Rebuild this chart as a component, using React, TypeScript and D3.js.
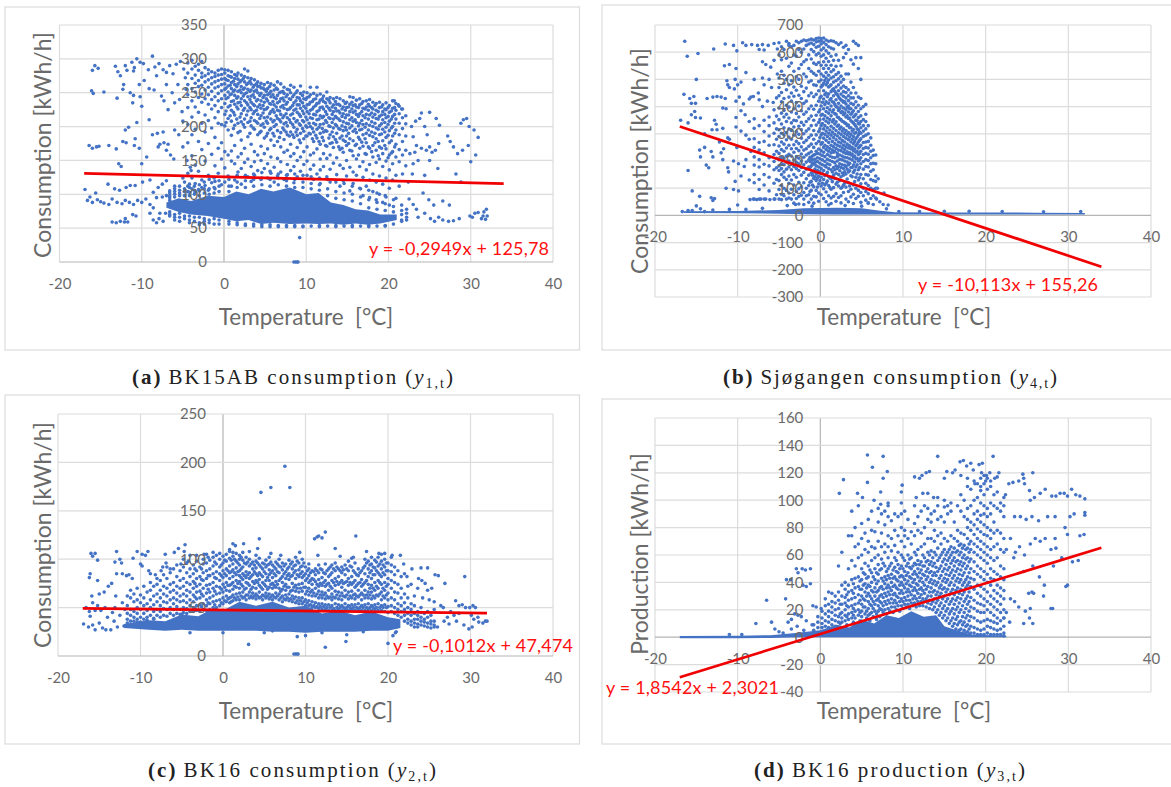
import React, { useRef, useEffect } from 'react';
import * as d3 from 'd3';

type Pt = [number, number];
type Band = [number, number, number]; // temperature, low, high
type Col = [number, number[]]; // temperature, values read at that temperature

const xTicks = [-20, -10, 0, 10, 20, 30, 40];
const ticksA = [0, 50, 100, 150, 200, 250, 300, 350];
const ticksB = [-300, -200, -100, 0, 100, 200, 300, 400, 500, 600, 700];
const ticksC = [0, 50, 100, 150, 200, 250];
const ticksD = [-40, -20, 0, 20, 40, 60, 80, 100, 120, 140, 160];

const trendA: Pt[] = [[-17, 130.8], [34, 115.8]];
const trendB: Pt[] = [[-17, 327], [34, -188.6]];
const trendC: Pt[] = [[-17, 49.2], [32, 44.2]];
const trendD: Pt[] = [[-17, -29.2], [34, 65.3]];

// the parts of each cloud where the dots merge into solid colour
const solidA: Band[][] = [
  [[-7, 80, 88], [-5.5, 74, 94], [-4, 70, 90], [-2, 68, 98], [0, 64, 96], [1.5, 60, 104], [3, 62, 100], [4.5, 56, 108], [6, 58, 104], [8, 56, 110], [10, 57, 100], [11.5, 56, 102], [13, 57, 88], [14.5, 55, 84], [16, 57, 78], [17.5, 55, 76], [19, 57, 70], [21, 62, 70]],
];
const solidB: Band[][] = [
  [[-16.5, 9, 15], [-10, 8, 16], [-5, 6, 20], [-2, 4, 26], [2, 3, 28], [5, 3, 26], [7, 3, 18], [9, 3, 12], [14, 3, 11], [20, 3, 11], [26, 3, 10], [32, 3, 9]],
];
const solidC: Band[][] = [
  [[-12, 29, 33], [-9, 27, 37], [-7, 26, 36], [-5, 27, 43], [-3, 26, 41], [-1, 26, 50], [0, 26, 47], [2, 26, 56], [4, 26, 52], [6, 25, 56], [8, 25, 50], [10, 24, 52], [12, 25, 44], [14, 25, 47], [16, 25, 42], [18, 26, 46], [20, 26, 40], [21.5, 29, 38]],
];
const solidD: Band[][] = [
  [[-17, -0.8, 0.8], [-10, -0.8, 1], [-6, -0.5, 1.5], [-3, 0, 3], [0, 0, 5], [2, 0, 9], [3.5, 0, 7], [5, 0, 13], [6.5, 0, 10], [8, 0, 16], [9.5, 0, 14], [11, 0, 19], [12.5, 0, 15], [14, 0, 16], [15, 0, 8], [16.5, 0, 5], [18, 0, 2], [22.5, 0, 1]],
];

const colsA: Col[] = [
  [-4.4, [294, 279, 262, 247, 228, 203, 176, 131, 112, 104]], [-3.9, [298, 285, 271, 256, 238, 214, 188, 157, 124, 108]], [-3.5, [289, 276, 264, 251, 229, 196, 143, 116, 103]], [-3.1, [292, 283, 268, 259, 243, 221, 178, 134, 107]], [-2.7, [296, 279, 273, 261, 248, 236, 205, 166, 121, 110]], [-2.3, [287, 275, 266, 254, 241, 217, 192, 149, 113]], [-1.9, [284, 278, 269, 258, 247, 233, 209, 175, 128, 106]], [-1.5, [281, 272, 263, 252, 240, 226, 198, 159, 117]], [-1.1, [279, 274, 266, 257, 244, 231, 213, 184, 142, 119, 108]], [-0.7, [283, 276, 268, 259, 249, 238, 222, 205, 168, 131]], [-0.3, [285, 277, 270, 262, 253, 241, 228, 203, 176, 152, 114]],
  [0.1, [284, 279, 271, 263, 255, 246, 234, 218, 201, 163, 139, 118]], [0.5, [283, 275, 268, 260, 251, 243, 229, 212, 195, 158, 127]], [0.9, [281, 273, 265, 256, 248, 237, 224, 208, 187, 164, 149, 112]], [1.3, [277, 271, 262, 254, 246, 233, 217, 202, 172, 145, 121]], [1.7, [279, 270, 263, 252, 244, 235, 226, 205, 191, 155, 133]], [2.1, [276, 268, 259, 250, 241, 231, 219, 207, 180, 160, 138, 115]], [2.5, [285, 274, 266, 257, 248, 238, 227, 211, 199, 168, 147]], [2.9, [282, 272, 264, 255, 244, 232, 223, 206, 185, 152, 126]], [3.3, [271, 263, 254, 245, 236, 225, 213, 201, 174, 141, 119]], [3.7, [269, 261, 252, 243, 231, 222, 209, 196, 163, 148, 128]], [4.1, [266, 259, 250, 240, 229, 218, 205, 188, 158, 135]], [4.5, [264, 257, 249, 238, 227, 216, 202, 193, 171, 150, 122]],
  [4.9, [262, 255, 246, 236, 225, 213, 199, 183, 160, 138]], [5.3, [265, 256, 247, 238, 228, 214, 205, 190, 167, 145, 124]], [5.7, [263, 252, 244, 233, 222, 211, 197, 180, 155, 131]], [6.1, [261, 254, 243, 232, 221, 209, 200, 186, 172, 140, 118]], [6.5, [266, 255, 246, 235, 224, 212, 194, 178, 153, 127]], [6.9, [263, 251, 241, 229, 218, 207, 191, 170, 148, 133]], [7.3, [258, 249, 238, 227, 216, 204, 195, 181, 162, 122]], [7.7, [255, 247, 236, 225, 213, 201, 188, 165, 144, 129]], [8.1, [261, 250, 240, 228, 217, 206, 192, 174, 156, 135]], [8.5, [258, 247, 235, 224, 212, 199, 184, 160, 141, 117]], [8.9, [253, 243, 232, 221, 209, 196, 187, 169, 150, 126]], [9.3, [260, 249, 238, 227, 215, 202, 190, 176, 155, 134]], [9.7, [251, 241, 230, 219, 207, 193, 182, 163, 144]], [10.1, [250, 243, 232, 222, 210, 199, 186, 170, 149, 128]], [10.5, [258, 247, 236, 224, 213, 200, 189, 158, 137]], [10.9, [249, 240, 229, 218, 205, 192, 178, 161, 143, 122]], [11.3, [258, 246, 234, 222, 210, 196, 183, 167, 130]], [11.7, [248, 239, 228, 216, 203, 190, 174, 152, 136, 116]],
  [12.1, [245, 237, 226, 215, 204, 192, 179, 160, 141]], [12.5, [251, 241, 230, 218, 206, 193, 171, 153, 126]], [12.9, [243, 235, 224, 212, 200, 188, 175, 158, 137, 118]], [13.3, [241, 232, 222, 211, 198, 185, 169, 146]], [13.7, [243, 233, 223, 213, 201, 190, 177, 154, 129]], [14.1, [241, 231, 220, 209, 196, 183, 166, 143, 112]], [14.5, [238, 229, 219, 207, 194, 180, 162, 138, 120]], [14.9, [236, 228, 217, 205, 195, 186, 172, 150, 127]], [15.3, [244, 233, 222, 210, 198, 182, 165, 140, 105]], [15.7, [243, 231, 221, 208, 193, 179, 157, 133, 116]], [16.1, [239, 229, 218, 206, 191, 174, 152, 128]], [16.5, [241, 232, 219, 205, 195, 181, 168, 141, 109]], [16.9, [237, 227, 216, 203, 188, 171, 148, 125, 98]], [17.3, [238, 229, 218, 204, 190, 176, 159, 136, 112]], [17.7, [240, 230, 217, 202, 187, 168, 144, 121, 95]], [18.1, [236, 226, 214, 200, 185, 172, 155, 130, 104]], [18.5, [234, 224, 212, 198, 182, 165, 147, 118, 92]], [18.9, [236, 228, 215, 201, 188, 170, 152, 127, 100]], [19.3, [232, 222, 210, 196, 179, 160, 141, 115, 88]], [19.7, [235, 225, 213, 199, 184, 167, 149, 124, 96]], [20.1, [231, 221, 208, 194, 176, 158, 136, 109, 84]], [20.5, [238, 227, 215, 200, 186, 163, 145, 121]], [20.9, [234, 224, 211, 195, 174, 155, 128, 94]], [21.3, [230, 219, 205, 188, 166, 148, 112]], [21.7, [226, 213, 197, 178, 158, 130]], [22.1, [216, 204, 186, 165, 142]],
  [-6.6, [91, 95, 98, 102, 74, 70, 68, 105]], [-6, [96, 100, 104, 70, 66, 62, 108]], [-5.4, [98, 102, 106, 72, 66, 60, 112]], [-4.8, [98, 104, 108, 68, 64, 118]], [-4.2, [98, 103, 110, 68, 62, 58, 115]], [-3.6, [100, 106, 112, 66, 60]], [-3, [98, 105, 114, 66, 58, 55]], [-2.4, [102, 108, 118, 64, 60, 56]], [-1.8, [100, 108, 122, 62, 58]], [-1.2, [102, 110, 124, 64, 56]], [-0.6, [104, 112, 120, 62, 56]], [0.6, [104, 112, 122, 60, 56]], [1.6, [110, 118, 128, 58, 55]], [2.6, [110, 120, 128, 56, 54]], [3.6, [112, 122, 130, 56, 53]], [4.6, [114, 124, 132, 55, 52]], [5.6, [112, 122, 134, 55, 52]], [6.6, [114, 124, 130, 54, 52]], [7.6, [112, 120, 128, 54, 52]], [8.6, [110, 122, 130, 54, 52]], [9.6, [110, 118, 128, 53, 52]], [10.6, [108, 116, 126, 53]], [11.6, [106, 114, 124, 54, 52]], [12.6, [98, 108, 122, 53]], [13.6, [94, 104, 118, 54, 52]], [14.6, [92, 102, 116, 53]], [15.6, [90, 100, 112, 54, 52]], [16.6, [86, 96, 108, 53]], [17.6, [80, 92, 106, 54, 52]], [18.6, [78, 88, 102, 53]], [19.6, [76, 86, 98, 54, 53]], [20.6, [74, 82, 92, 56]], [21.6, [62, 70, 76, 84, 60]], [22.2, [66, 72, 78, 62]],
  // second pass through the upper band, between the first columns
  [0.25, [269, 257, 241, 223, 206]], [0.75, [274, 261, 247, 231, 216]], [1.15, [267, 252, 238, 221, 197]], [1.55, [275, 259, 242, 229, 211]], [1.95, [266, 254, 236, 214, 193]], [2.35, [271, 255, 245, 224, 203]], [2.75, [262, 250, 235, 217]], [3.15, [267, 252, 240, 228, 208, 190]], [3.55, [258, 247, 233, 219, 198]], [3.95, [263, 254, 238, 224, 207]], [4.35, [260, 246, 232, 212, 191]], [4.75, [257, 243, 231, 220, 204]], [5.15, [252, 241, 226, 208, 186]], [5.55, [259, 249, 234, 219, 195]], [5.95, [247, 237, 225, 207, 190]], [6.35, [257, 241, 229, 216, 203]], [6.75, [250, 237, 223, 210, 184]], [7.15, [252, 242, 231, 213, 198]], [7.55, [244, 233, 219, 206, 192]], [7.95, [254, 241, 226, 210, 186]], [8.35, [244, 231, 219, 203, 188]], [8.75, [250, 238, 226, 207, 192]], [9.15, [242, 232, 218, 204, 180]], [9.55, [246, 235, 223, 209, 197]], [9.95, [240, 227, 214, 201, 186]], [10.35, [244, 233, 219, 205, 190]], [10.75, [237, 226, 212, 197, 182]], [11.15, [241, 231, 217, 203, 187]], [11.55, [235, 224, 211, 199, 178]], [11.95, [241, 229, 213, 197, 184]], [12.35, [235, 222, 209, 194, 172]], [12.75, [239, 227, 213, 201, 183]], [13.15, [229, 218, 206, 192, 176]], [13.55, [237, 227, 215, 203, 181]], [13.95, [233, 223, 211, 197, 170]], [14.35, [226, 215, 201, 186, 168]], [14.75, [234, 224, 213, 199, 178]], [15.15, [229, 217, 204, 190, 175]], [15.55, [236, 226, 213, 201, 164]], [15.95, [232, 223, 210, 196, 172]], [16.35, [228, 215, 201, 184, 158]], [16.75, [234, 222, 209, 196, 177]], [17.15, [226, 213, 199, 182, 160]], [17.55, [233, 224, 211, 195, 170]], [17.95, [228, 220, 207, 192, 163]], [18.35, [231, 218, 205, 190, 176]], [18.75, [222, 211, 196, 178, 157]], [19.15, [229, 217, 204, 189, 168]], [19.55, [226, 218, 206, 192, 172]], [19.95, [228, 215, 203, 187, 154]], [20.35, [223, 211, 198, 179, 161]], [20.75, [228, 218, 205, 190, 170]],
];

const pointsA: Pt[] = [
  [-16, 283], [-15.7, 290], [-15.3, 286], [-16.1, 253], [-15.9, 249], [-14.6, 251], [-13.2, 289], [-12.9, 281], [-12.6, 275], [-12, 290], [-11.8, 283], [-12.2, 262], [-11.2, 295], [-10.9, 287], [-10.6, 300], [-11, 282], [-10.2, 295], [-9.8, 293], [-9.2, 284], [-8.7, 304], [-8.4, 288], [-7.9, 293], [-7.4, 284], [-7, 280], [-6.6, 290], [-6.2, 278], [-5.8, 292], [-5.3, 296], [-4.9, 285], [-4.7, 272],
  [-13, 242], [-12.3, 255], [-11.4, 250], [-11, 246], [-11.1, 235], [-10.3, 262], [-10.2, 244], [-10, 230], [-9.7, 268], [-9.1, 256], [-8.5, 254], [-8.2, 275], [-7.6, 245], [-7.3, 238], [-7, 262], [-6.8, 225], [-6.3, 250], [-6, 235], [-5.6, 262], [-5.4, 240], [-5.1, 222], [-4.6, 255],
  [-16.4, 172], [-16, 168], [-15.5, 170], [-15.2, 171], [-14, 172], [-13.1, 167], [-12.8, 145], [-12.5, 141], [-12.3, 178], [-11.9, 176], [-12, 195], [-11.6, 199], [-10.9, 172], [-10.3, 168], [-10.8, 182], [-10.6, 206], [-10, 145], [-9.4, 155], [-9.1, 210], [-8.7, 188], [-8.1, 190], [-8, 170], [-7.8, 174], [-7.4, 192], [-7.3, 176], [-7, 165], [-6.8, 174], [-6.5, 158], [-6, 195], [-6.1, 152], [-5.5, 188], [-5, 208], [-5, 170], [-4.5, 150], [-4.1, 140],
  [-16.9, 107], [-16.6, 91], [-16.3, 96], [-16, 88], [-15.6, 102], [-15.4, 92], [-15, 89], [-14.6, 87], [-14.1, 115], [-14, 85], [-13.6, 93], [-13.3, 108], [-13, 88], [-12.7, 106], [-12.4, 86], [-12, 91], [-11.9, 110], [-11.5, 88], [-11.4, 113], [-11, 85], [-10.8, 113], [-10.5, 91], [-10, 88], [-9.9, 118], [-9.5, 93], [-9, 121], [-9, 85], [-8.6, 103], [-8, 110], [-7.5, 115], [-7, 120], [-6, 112], [-5, 124], [-4, 135], [-13.6, 59], [-13.1, 58], [-12.6, 60], [-12.1, 59], [-12, 64], [-11.7, 59], [-11.1, 70], [-10.7, 68], [-9, 72], [-8.6, 62], [-8.2, 58], [-7.9, 64], [-7.4, 60], [-8.6, 80], [-8.2, 95], [-7.8, 72], [-7.5, 96], [-7.1, 72], [-7, 98],
  [21.2, 232], [21.6, 226], [20.7, 238], [22.8, 200], [23, 185], [23.3, 208], [23.8, 212], [24, 220], [24.4, 200], [24.7, 188], [25, 221], [25, 170], [25.3, 162], [25.7, 165], [25.8, 212], [26.2, 202], [26.1, 175], [26, 138], [24.4, 128], [23.2, 162], [23.6, 150], [24, 168], [22.9, 130], [27.2, 186], [27.5, 178], [27.9, 170], [28.2, 130], [28.4, 160], [28.8, 118], [28.8, 205], [29.1, 210], [29.5, 212], [29.8, 200], [30, 148], [30.4, 195], [30.6, 158], [30.9, 184], [29, 165], [29.7, 172], [22.6, 160], [23.4, 172], [24.6, 165], [25, 150], [22.4, 118], [23, 145],
  [22.5, 93], [23, 85], [23.4, 78], [24.2, 102], [24.9, 92], [25.5, 84], [26.6, 90], [27.4, 84], [23.6, 66], [24.4, 72], [25.1, 64], [25.6, 60], [26.1, 66], [26.6, 62], [27.3, 60], [27.9, 61], [28.6, 64], [29.9, 68], [30.2, 66], [30.5, 72], [30.9, 73], [31.3, 64], [31.6, 74], [31.9, 78], [32, 68], [31.5, 68], [31.8, 63],
  [9.2, 36], [8.5, 0], [8.7, 0], [8.9, 0], [9, 0],
];

const colsB: Col[] = [
  [-5, [635, 590, 505, 470, 440, 395, 352, 315, 290, 255, 228, 205, 182, 165, 128, 95, 60]], [-4.7, [620, 572, 530, 452, 418, 376, 336, 302, 270, 242, 213, 190, 172, 150, 110, 78, 58]], [-4.4, [610, 515, 486, 430, 386, 362, 322, 296, 262, 236, 208, 186, 160, 140, 100, 72]], [-4.1, [640, 578, 500, 462, 405, 372, 345, 305, 278, 248, 218, 196, 170, 132, 92, 60]], [-3.8, [632, 625, 548, 480, 435, 398, 358, 318, 288, 258, 225, 200, 178, 145, 118, 82, 64]], [-3.5, [620, 560, 495, 450, 420, 380, 340, 312, 280, 245, 218, 192, 168, 130, 96, 60]], [-3.2, [625, 590, 530, 472, 438, 392, 350, 325, 295, 260, 232, 204, 180, 150, 112, 76, 45]], [-2.9, [640, 585, 510, 460, 415, 375, 348, 308, 272, 246, 216, 195, 172, 140, 88, 62]], [-2.6, [635, 610, 540, 500, 442, 402, 362, 328, 298, 264, 238, 210, 190, 165, 122, 98, 70, 42]], [-2.3, [640, 600, 555, 475, 430, 385, 342, 315, 284, 252, 226, 200, 176, 148, 105, 74]], [-2, [645, 612, 565, 520, 455, 412, 372, 332, 300, 268, 240, 214, 186, 158, 120, 84, 60, 40]], [-1.7, [642, 625, 572, 510, 468, 420, 380, 345, 310, 276, 245, 222, 196, 170, 135, 100, 72]], [-1.4, [645, 630, 590, 540, 490, 440, 392, 355, 318, 286, 254, 228, 204, 178, 148, 110, 76, 48]], [-1.1, [648, 634, 610, 575, 530, 495, 450, 402, 365, 330, 295, 262, 234, 208, 182, 156, 125, 92, 60]], [-0.8, [645, 628, 602, 560, 522, 480, 436, 390, 350, 312, 280, 250, 222, 188, 160, 136, 105, 70, 45]],
  [-0.5, [650, 638, 618, 590, 555, 515, 478, 445, 405, 368, 332, 296, 264, 236, 182, 152, 128, 92, 68]], [-0.2, [652, 640, 622, 596, 562, 530, 492, 458, 420, 380, 342, 308, 272, 244, 178, 145, 116, 82, 52]], [0.1, [650, 642, 630, 608, 585, 552, 520, 498, 472, 438, 402, 368, 330, 296, 262, 238, 172, 140, 108, 76]], [0.4, [652, 636, 615, 590, 565, 540, 512, 486, 458, 428, 392, 354, 318, 284, 250, 232, 165, 132, 98, 62]], [0.7, [645, 628, 605, 578, 552, 525, 505, 480, 450, 418, 382, 346, 310, 276, 242, 178, 150, 118, 86, 50]], [1, [640, 620, 596, 566, 540, 515, 498, 472, 446, 412, 376, 340, 302, 268, 236, 172, 142, 110, 72]], [1.3, [642, 615, 585, 552, 528, 505, 480, 455, 430, 402, 366, 328, 295, 258, 230, 168, 135, 96, 64, 44]], [1.6, [640, 612, 570, 535, 510, 490, 465, 440, 416, 388, 352, 320, 286, 252, 232, 176, 148, 102, 70]], [1.9, [635, 590, 548, 518, 495, 472, 448, 425, 400, 372, 344, 312, 278, 246, 182, 155, 115, 80, 52]], [2.2, [628, 570, 525, 502, 480, 458, 436, 412, 386, 360, 332, 304, 270, 240, 180, 150, 108, 66]], [2.5, [635, 550, 512, 490, 468, 446, 424, 402, 378, 352, 325, 298, 266, 238, 176, 142, 100, 72, 46]], [2.8, [618, 580, 500, 476, 455, 438, 416, 395, 370, 344, 318, 290, 258, 232, 172, 148, 112, 84]], [3.1, [625, 595, 520, 470, 452, 432, 410, 388, 362, 338, 312, 284, 252, 228, 180, 152, 104, 60]], [3.4, [610, 520, 462, 440, 422, 402, 380, 356, 332, 305, 278, 248, 226, 186, 160, 120, 88, 50]], [3.7, [572, 490, 450, 432, 412, 392, 372, 348, 322, 298, 270, 244, 222, 176, 146, 96, 68]], [4, [640, 556, 470, 432, 408, 385, 362, 340, 316, 290, 264, 238, 215, 185, 158, 112, 78, 44]], [4.3, [632, 580, 450, 418, 396, 372, 350, 328, 305, 282, 256, 232, 208, 178, 140, 100, 62]], [4.6, [625, 540, 435, 405, 382, 360, 338, 315, 296, 270, 248, 224, 200, 168, 130, 92, 70]], [4.9, [580, 500, 430, 392, 366, 345, 322, 302, 282, 258, 236, 212, 190, 150, 116, 84, 48]], [5.2, [400, 352, 330, 310, 290, 268, 246, 224, 198, 170, 135, 100, 72]], [5.5, [408, 372, 345, 318, 295, 270, 250, 228, 205, 180, 150, 118, 88, 56]], [5.8, [330, 300, 272, 248, 225, 202, 178, 148, 110, 80, 46]], [6.1, [285, 258, 236, 212, 190, 162, 132, 100, 62]], [6.4, [240, 220, 192, 168, 128, 95, 72, 40]], [6.7, [222, 190, 145, 125, 100, 64]],
  [-8, [355, 320, 282, 250, 215, 185, 150, 120, 60]], [-7.4, [330, 268, 240, 205, 178, 132, 95, 60]], [-6.8, [350, 308, 272, 230, 188, 150, 112, 60]], [-6.2, [362, 330, 292, 258, 212, 182, 140, 90]], [-5.6, [388, 340, 302, 260, 224, 198, 168, 118, 60]], [-5.3, [432, 365, 318, 280, 236, 210, 175, 132, 76]],
  // second pass through the dense block
  [-1.25, [214, 198, 176, 122, 88]], [-0.95, [218, 204, 192, 148, 112]], [-0.65, [224, 206, 194, 170, 142]], [-0.35, [228, 212, 198, 165, 137, 104]], [-0.05, [432, 388, 352, 318, 286, 226, 208, 192, 160, 128]], [0.25, [478, 416, 372, 338, 302, 268, 220, 204, 186, 154, 118]], [0.55, [496, 444, 408, 366, 330, 298, 258, 216, 198, 182, 146, 112]], [0.85, [488, 436, 396, 358, 322, 290, 252, 224, 206, 190, 158, 126]], [1.15, [476, 424, 388, 352, 314, 282, 246, 218, 202, 186, 138, 102]], [1.45, [462, 418, 380, 344, 306, 272, 240, 214, 198, 160, 124]], [1.75, [456, 408, 374, 336, 298, 264, 236, 212, 194, 168, 136]], [2.05, [444, 398, 362, 328, 292, 258, 228, 216, 200, 172, 122]], [2.35, [430, 392, 354, 318, 284, 254, 222, 206, 190, 164, 128]], [2.65, [422, 382, 346, 310, 276, 248, 218, 204, 186, 156, 104]], [2.95, [418, 376, 340, 302, 270, 242, 214, 200, 184, 160, 118]], [3.25, [398, 366, 330, 296, 262, 234, 212, 196, 170, 134]], [3.55, [392, 358, 322, 288, 256, 230, 208, 192, 164, 108]], [3.85, [378, 344, 310, 280, 250, 226, 204, 176, 142]], [4.15, [366, 334, 302, 272, 244, 218, 196, 166, 124]], [4.45, [348, 318, 288, 262, 236, 210, 186, 152]], [4.75, [336, 306, 276, 252, 228, 204, 176, 138]],
];

const pointsB: Pt[] = [
  [-16.4, 640], [-16.1, 585], [-14.8, 595], [-15, 500], [-12.9, 612], [-11.5, 630], [-11, 555], [-11.6, 550], [-10.5, 625], [-10.1, 605], [-9.4, 635], [-9, 625], [-8.3, 628], [-7.6, 625], [-7.4, 610], [-7, 628], [-6.8, 608], [-6.3, 625], [-5.6, 632], [-5.2, 612], [-7, 565], [-6.6, 555], [-6, 545], [-5.6, 570], [-10.2, 540], [-9, 525],
  [-11.3, 495], [-11.2, 480], [-11, 470], [-10.4, 465], [-10.3, 500], [-10, 480], [-9.6, 490], [-8.4, 435], [-8, 500], [-7.5, 450], [-7, 505], [-6.8, 480], [-6.2, 500], [-5.9, 470], [-5.2, 520],
  [-16.5, 445], [-15.8, 430], [-15.3, 437], [-15.6, 412], [-15.1, 412], [-16.9, 350], [-15.6, 370], [-15.2, 382], [-15.1, 360], [-14.5, 358], [-13.7, 430], [-13, 435], [-12.5, 437], [-12, 435], [-11.5, 430], [-11.8, 395], [-11.4, 392], [-10.2, 420], [-9.8, 435], [-9.3, 410], [-8.6, 428], [-8.1, 437], [-7.4, 425], [-7, 400], [-6.4, 420], [-5.7, 415], [-10.2, 360], [-9.6, 385], [-9.1, 370], [-8.6, 345],
  [-16, 340], [-14, 300], [-13.1, 315], [-12.8, 350], [-12.6, 335], [-12.5, 315], [-11.8, 320], [-11.2, 285], [-11, 280], [-10.2, 325], [-9.6, 310], [-9, 295], [-8.6, 280],
  [-16, 165], [-14.6, 240], [-14.5, 215], [-14, 250], [-13.8, 185], [-13.5, 175], [-13.2, 235], [-13, 215], [-12.2, 270], [-12, 230], [-11.8, 205], [-11.7, 245], [-11.2, 175], [-11.1, 160], [-10.5, 200], [-10.3, 125], [-10.1, 250], [-9.9, 190], [-9.6, 145], [-9.2, 180], [-9, 205], [-8.6, 130], [-8.4, 235],
  [-15.5, 90], [-14.6, 70], [-15, 35], [-13.2, 65], [-13, 55], [-12.8, 62], [-11.4, 100], [-10.5, 95], [-9.9, 90], [-10, 38], [-8.5, 58], [-8.1, 60], [-7.7, 58], [-7.2, 60], [-6.6, 60], [-6.1, 58], [-5.5, 60],
  [7, 135], [6.9, 100], [7.7, 82], [6.8, 60], [7.2, 50], [7.6, 40], [8.2, 38], [5.8, 45],
  [-16.7, 14], [-16, 18], [-15.5, 18], [-14.5, 24], [-14, 14], [-13, 20], [-11, 22], [-9, 22], [-7, 26], [-4, 36], [-3, 40], [-1, 34], [1, 38], [3, 36], [5, 34], [8, 24], [9.5, 14], [12, 14], [15, 15], [18, 15], [22, 14], [27, 13], [31.5, 14],
];

const colsC: Col[] = [
  [-11.6, [38, 44, 52, 62, 34]], [-11.2, [36, 42, 48, 60, 68]], [-10.8, [40, 46, 56, 64, 36]], [-10.4, [38, 44, 50, 58, 70, 35]], [-10, [40, 48, 55, 63, 35]], [-9.6, [38, 44, 52, 60, 72]], [-9.2, [40, 47, 54, 66, 37]], [-8.8, [42, 50, 58, 68, 76]], [-8.4, [39, 46, 53, 62, 72, 38]], [-8, [42, 48, 56, 64, 74, 80]], [-7.6, [40, 46, 52, 60, 68, 78]], [-7.2, [42, 49, 56, 64, 72, 84]], [-6.8, [41, 48, 55, 62, 70, 80, 92]], [-6.4, [44, 50, 58, 66, 74, 86]], [-6, [42, 48, 54, 60, 68, 76, 90]], [-5.6, [44, 51, 58, 65, 72, 82, 94]], [-5.2, [43, 48, 56, 62, 70, 78, 88]], [-4.8, [45, 50, 57, 64, 72, 80, 92, 100]], [-4.4, [44, 49, 55, 62, 68, 76, 86, 96]], [-4, [46, 52, 58, 66, 74, 82, 90, 104]],
  [-3.6, [46, 50, 56, 63, 70, 77, 85, 94]], [-3.2, [47, 52, 59, 66, 72, 80, 88, 98]], [-2.8, [46, 53, 60, 67, 74, 82, 92]], [-2.4, [48, 54, 62, 70, 78, 86, 95, 100]], [-2, [47, 52, 58, 65, 73, 80, 88, 96, 105]], [-1.6, [48, 54, 60, 66, 74, 83, 90, 99]], [-1.2, [50, 56, 62, 70, 76, 85, 93, 102]], [-0.8, [50, 57, 64, 72, 80, 87, 95, 104]], [-0.4, [52, 58, 65, 71, 78, 85, 92, 100, 106]], [0, [54, 60, 66, 74, 81, 88, 96, 103]], [0.4, [56, 62, 68, 76, 83, 90, 98, 105]], [0.8, [55, 60, 67, 73, 80, 86, 93, 101, 108]], [1.2, [57, 63, 69, 76, 82, 89, 95, 103, 107]], [1.6, [58, 64, 71, 78, 84, 91, 98, 106]], [2, [58, 65, 70, 77, 83, 88, 94, 100, 104]], [2.4, [60, 66, 72, 79, 85, 92, 99, 107]], [2.8, [58, 63, 70, 76, 81, 87, 95, 102]], [3.2, [60, 66, 73, 80, 86, 93, 100]], [3.6, [60, 65, 71, 77, 84, 90, 97]], [4, [59, 64, 70, 78, 85, 91, 98, 104]], [4.4, [60, 66, 73, 79, 86, 94, 101]], [4.8, [58, 63, 69, 76, 82, 90, 96]], [5.2, [60, 65, 72, 78, 85, 92, 99]], [5.6, [59, 64, 71, 78, 84, 89, 95, 102]], [6, [58, 63, 70, 75, 81, 88, 94]], [6.4, [60, 65, 71, 77, 83, 90, 97]], [6.8, [58, 64, 70, 78, 86, 93, 100]], [7.2, [56, 62, 69, 76, 82, 89, 96]], [7.6, [58, 63, 68, 74, 80, 87, 95]], [8, [57, 64, 71, 79, 85, 92, 99]], [8.4, [56, 62, 68, 75, 83, 90, 97]], [8.8, [55, 61, 67, 73, 80, 88, 94, 102]], [9.2, [54, 60, 66, 74, 82, 89, 96]], [9.6, [54, 60, 67, 75, 81, 87, 93, 100]], [10, [52, 58, 64, 71, 78, 85, 92]],
  [10.4, [52, 57, 63, 70, 76, 83, 90, 95]], [10.8, [50, 56, 62, 68, 74, 80, 88]], [11.2, [50, 55, 62, 70, 77, 84, 90]], [11.6, [49, 54, 60, 67, 72, 79, 86, 94]], [12, [48, 54, 60, 66, 73, 81, 89]], [12.4, [48, 53, 59, 65, 72, 78, 85, 95]], [12.8, [47, 53, 60, 68, 75, 82, 90]], [13.2, [47, 52, 58, 64, 70, 78, 86, 94]], [13.6, [47, 54, 60, 67, 73, 80, 88, 96]], [14, [48, 53, 59, 66, 74, 82, 90]], [14.4, [47, 52, 58, 65, 71, 78, 86, 92]], [14.8, [48, 54, 61, 68, 76, 84, 94]], [15.2, [47, 52, 59, 66, 73, 80, 88, 98]], [15.6, [48, 53, 60, 67, 74, 82, 92, 101]], [16, [47, 53, 59, 64, 71, 78, 86, 96]], [16.4, [48, 54, 61, 68, 75, 83, 90]], [16.8, [47, 52, 58, 65, 72, 79, 88]], [17.2, [47, 53, 60, 68, 76, 85, 93, 100]], [17.6, [48, 54, 60, 66, 74, 82, 90, 98]], [18, [47, 52, 59, 66, 73, 80, 88, 95, 102]], [18.4, [48, 53, 60, 68, 76, 84, 91, 99]], [18.8, [47, 54, 62, 70, 78, 86, 93, 102]], [19.2, [47, 52, 58, 66, 74, 82, 90, 98, 105]], [19.6, [46, 53, 60, 68, 76, 84, 92, 100]], [20, [45, 51, 58, 65, 74, 80, 88, 96]], [20.4, [46, 52, 60, 70, 78, 87, 94, 102]], [20.8, [44, 50, 58, 66, 76, 84, 92]], [21.2, [42, 48, 54, 65, 74, 88]], [21.6, [40, 46, 52, 60, 70, 82]], [22, [36, 42, 48, 55, 64, 85]], [22.4, [34, 38, 44, 50, 60, 72]], [22.8, [32, 36, 42, 48, 54]], [23.2, [30, 34, 38, 44, 52]], [23.6, [30, 33, 38, 42, 46]], [24, [32, 36, 40, 45, 50]], [24.4, [31, 35, 38, 44]], [24.8, [30, 34, 40, 46]], [25.2, [29, 33, 36, 42]], [25.6, [30, 32, 36, 48]],
  [-9.6, [30, 33]], [-5, [43]], [1, [56]], [6, [26]], [12, [24]], [17, [25]], [21, [25, 30, 35]],
  // second pass through the upper half of the cloud
  [-3.4, [49, 61, 75, 90]], [-2.6, [51, 64, 79, 90]], [-1.8, [55, 69, 83]], [-1, [53, 67, 81, 97]], [-0.2, [55, 69, 83, 94]], [0.2, [57, 71, 85, 99]], [0.6, [59, 73, 88]], [1, [61, 74, 87, 99]], [1.4, [60, 72, 86, 100]], [1.8, [61, 75, 87, 96]], [2.2, [62, 74, 81, 90, 102]], [2.6, [61, 69, 83, 96]], [3, [63, 75, 84, 97]], [3.4, [62, 69, 82, 95]], [3.8, [62, 75, 87, 94]], [4.2, [62, 76, 83, 96]], [4.6, [61, 71, 84, 92]], [5, [62, 74, 87, 95]], [5.4, [62, 69, 81, 94]], [5.8, [61, 74, 86, 97]], [6.2, [61, 73, 85, 92]], [6.6, [62, 74, 87, 95]], [7, [60, 67, 80, 92]], [7.4, [59, 72, 85, 93]], [7.8, [60, 71, 83, 90]], [8.2, [59, 67, 82, 95]], [8.6, [59, 71, 86, 93]], [9, [57, 70, 84, 98]], [9.4, [57, 70, 85, 92]], [9.8, [56, 71, 83, 96]], [10.2, [55, 67, 80, 88]], [10.6, [53, 66, 78, 86]], [11, [52, 65, 79, 87]], [11.4, [51, 64, 74, 88]], [11.8, [51, 63, 75, 90]], [12.2, [51, 63, 76, 86]], [12.6, [50, 62, 74, 88]], [13, [50, 61, 72, 84, 92]], [13.4, [49, 61, 76, 90]], [13.8, [50, 63, 77, 92]], [14.2, [50, 62, 76, 88]], [14.6, [50, 62, 75, 89]], [15, [50, 63, 77, 90]], [15.4, [50, 62, 76, 93]], [15.8, [50, 63, 76, 88]], [16.2, [50, 62, 73, 84]], [16.6, [50, 63, 76, 86]], [17, [50, 63, 74, 91]], [17.4, [50, 63, 78, 96]], [17.8, [50, 63, 70, 86, 94]], [18.2, [50, 62, 70, 84, 92]], [18.6, [50, 63, 72, 88, 97]], [19, [50, 64, 76, 84, 95]], [19.4, [50, 62, 70, 86, 94]], [19.8, [50, 63, 72, 88, 96]],
];

const pointsC: Pt[] = [
  [-16, 106], [-15.8, 103], [-15.5, 106], [-15.2, 99], [-16.1, 85], [-16.2, 81], [-15.9, 62], [-15.2, 78], [-15, 64], [-14.4, 66], [-13.9, 72], [-13.5, 75], [-13.1, 97], [-12.9, 108], [-12.5, 100], [-12.3, 96], [-12.9, 85], [-12.2, 85], [-13, 62], [-11.7, 83], [-11.4, 84], [-11, 80], [-10.9, 101], [-10.4, 108], [-10, 95], [-9.8, 105], [-9.4, 104], [-9.1, 108], [-9.8, 93], [-9, 88], [-8.8, 85], [-8.2, 84], [-7.5, 88], [-7.3, 92], [-7, 105], [-6.9, 96], [-6.4, 90], [-5.9, 107], [-5.4, 111], [-5.1, 95], [-4.7, 108], [-4.6, 115], [-4.2, 98], [-3.2, 104], [-2.3, 105], [-1.8, 102], [-1.2, 107], [0.8, 110], [1.2, 116], [1.5, 114], [2.5, 116], [3.2, 108], [4.4, 121], [4.2, 111], [5.8, 106], [7, 104], [9.3, 107],
  [-16.6, 50], [-16.2, 46], [-16.1, 41], [-15.8, 55], [-15.5, 47], [-15.2, 52], [-14.8, 47], [-14.3, 50], [-14, 40], [-13.4, 45], [-13.1, 50], [-12.5, 42], [-12.2, 55], [-11.9, 48],
  [-16.9, 33], [-16.3, 30], [-15.8, 32], [-15.5, 27], [-15, 34], [-14.6, 29], [-14.2, 27], [-13.6, 27], [-13.2, 36], [-12.8, 30], [-12, 31],
  [4.6, 169], [5.8, 174], [7.5, 196], [8.1, 174], [11.1, 121], [11.4, 123], [11.6, 124], [12, 122], [12.4, 128], [16.1, 124], [13.6, 111], [11.5, 104], [14.2, 103], [15.8, 102], [17.4, 108], [18.9, 106], [19.6, 106], [20.5, 104], [21.5, 104], [21.9, 95], [22.9, 90], [24, 91], [24.8, 91], [25.7, 84], [26.1, 83], [26.9, 75], [29.3, 82],
  [22.3, 82], [22.8, 74], [23.2, 62], [23.7, 80], [24.1, 78], [24.5, 75], [24.8, 68], [23.6, 70], [25.3, 70], [24.2, 60], [25, 58], [25.6, 56], [26.4, 52], [26.7, 50],
  [27.2, 40], [27.6, 46], [28, 42], [28.3, 36], [28.2, 57], [28.6, 52], [29, 53], [29.4, 50], [29.9, 50], [30.3, 52], [30.6, 50], [30.1, 42], [30.4, 38], [30.9, 40], [31, 35], [31.5, 34], [31.8, 36], [32, 36], [29.2, 32], [29.8, 28], [30.2, 30], [28.6, 44], [27.4, 33], [26, 30], [26.8, 36],
  [3.1, 12], [12.4, 9], [14.9, 15], [20, 13], [8.6, 2], [8.8, 2], [9, 2], [9.1, 2], [9, 20], [10, 21], [15, 22], [20.6, 21], [20.9, 24], [-4, 24], [0, 24], [5, 24],
];

const colsD: Col[] = [
  [-0.8, [2, 5, 9]], [-0.3, [3, 7, 11, 15]], [0.2, [7, 10, 14, 19]], [0.6, [8, 12, 17, 23, 28]], [1, [7, 11, 15, 19, 24, 33]], [1.4, [9, 13, 18, 22, 26, 32]], [1.8, [8, 12, 16, 20, 25, 30]], [2.2, [11, 15, 21, 27, 33, 52]], [2.6, [11, 14, 18, 24, 30, 38, 62]], [3, [12, 16, 20, 25, 29, 35, 40]], [3.4, [13, 17, 22, 27, 33, 38, 50, 74]], [3.8, [14, 18, 23, 28, 34, 42, 56, 74, 92]], [4.2, [14, 19, 24, 29, 36, 43, 52, 66, 80]], [4.6, [16, 20, 25, 31, 37, 44, 58, 68, 96]], [5, [15, 19, 24, 30, 35, 42, 50, 60, 72, 83]], [5.4, [17, 22, 27, 33, 39, 46, 54, 64, 76]], [5.8, [16, 21, 26, 32, 38, 44, 52, 62, 70, 86]], [6.2, [18, 23, 28, 34, 40, 47, 56, 66, 78, 92]], [6.6, [19, 24, 30, 36, 42, 50, 58, 65, 77]], [7, [19, 23, 28, 34, 41, 46, 53, 60, 70, 84, 94]], [7.4, [20, 25, 31, 37, 43, 50, 57, 66, 76, 90]], [7.8, [20, 26, 32, 39, 44, 52, 62, 68, 82, 92]], [8.2, [21, 27, 33, 38, 45, 50, 58, 66, 74, 88, 96]], [8.6, [22, 28, 34, 40, 46, 54, 63, 72, 85]], [9, [22, 27, 32, 38, 44, 51, 58, 67, 78, 90]], [9.4, [23, 29, 35, 41, 47, 53, 62, 74, 88]], [9.8, [23, 28, 34, 40, 45, 52, 60, 70, 80, 90]],
  [10.2, [24, 29, 36, 42, 48, 56, 66, 74, 78, 92]], [10.6, [24, 30, 35, 41, 47, 54, 60, 72, 86]], [11, [25, 31, 37, 43, 50, 58, 68, 77]], [11.4, [25, 30, 36, 42, 48, 54, 62, 74, 83, 96]], [11.8, [26, 32, 38, 44, 50, 56, 64, 78, 88]], [12.2, [26, 31, 36, 43, 49, 55, 66, 76, 92]], [12.6, [26, 32, 38, 45, 52, 58, 68, 80, 96]], [13, [25, 30, 37, 44, 50, 56, 62, 72, 86, 94]], [13.4, [24, 30, 36, 42, 48, 55, 63, 72, 84, 90]], [13.8, [22, 28, 34, 41, 47, 54, 62, 70, 78, 92]], [14.2, [20, 27, 33, 40, 48, 56, 65, 74, 86, 96]], [14.6, [18, 25, 32, 38, 45, 52, 60, 68, 76, 88]], [15, [16, 23, 30, 36, 43, 50, 57, 64, 72, 84, 95, 100]], [15.4, [14, 21, 28, 35, 42, 49, 56, 62, 70, 90, 96]], [15.8, [12, 19, 26, 33, 40, 47, 54, 60, 66, 74, 92, 98]], [16.2, [10, 17, 24, 31, 38, 45, 52, 58, 65, 72, 84]], [16.6, [9, 15, 22, 29, 36, 43, 50, 56, 63, 70, 78, 96]], [17, [6, 12, 20, 28, 35, 42, 49, 55, 62, 68, 76, 92, 104]], [17.4, [5, 11, 18, 26, 33, 40, 47, 54, 60, 67, 75, 88, 100]], [17.8, [4, 9, 16, 24, 30, 38, 44, 52, 58, 65, 72, 80, 86, 94, 110]], [18.2, [3, 8, 15, 22, 29, 37, 43, 50, 57, 64, 70, 78, 84, 96, 108]], [18.6, [3, 7, 14, 21, 27, 35, 42, 48, 55, 62, 68, 75, 82, 90, 100, 114]], [19, [2, 6, 12, 19, 25, 32, 38, 46, 52, 60, 66, 72, 79, 86, 92, 102, 112]], [19.4, [2, 5, 11, 18, 24, 30, 37, 44, 50, 58, 64, 70, 77, 84, 89, 98, 107, 116]], [19.8, [2, 6, 12, 18, 23, 28, 35, 42, 48, 56, 62, 68, 75, 82, 90, 96, 104, 112, 118]], [20.2, [3, 8, 13, 20, 26, 33, 40, 46, 54, 60, 66, 74, 80, 88, 94, 108, 116]], [20.6, [2, 7, 12, 18, 24, 30, 38, 43, 50, 58, 64, 72, 78, 90, 98, 110, 114]], [21, [2, 6, 11, 16, 22, 28, 34, 42, 48, 56, 66, 76, 84, 96, 104]], [21.4, [2, 5, 10, 14, 20, 26, 32, 38, 46, 58, 68, 78, 94, 106, 117]], [21.8, [2, 6, 12, 18, 24, 30, 36, 44, 52, 64, 76, 92, 98]], [22.2, [1, 3, 8, 14, 20, 28, 34, 42, 50, 62, 72, 88, 96, 102]],
  // second pass through the crowded lower part
  [2.4, [10, 17, 24]], [3.2, [9, 15, 23, 31]], [4, [11, 16, 21, 32, 39]], [4.8, [12, 18, 27, 35, 41]], [5.2, [11, 22, 28, 38, 47]], [5.6, [14, 19, 30, 36, 43]], [6, [12, 17, 24, 30, 37, 49]], [6.4, [15, 21, 26, 33, 44]], [6.8, [13, 17, 27, 33, 39, 47]], [7.2, [15, 21, 26, 30, 36, 49]], [7.6, [18, 23, 29, 35, 41, 54]], [8, [17, 24, 30, 36, 42, 48]], [8.4, [19, 25, 31, 36, 43, 52]], [8.8, [18, 25, 31, 37, 43, 49]], [9.2, [20, 25, 30, 36, 42, 48, 56]], [9.6, [19, 26, 32, 38, 44, 50]], [10, [21, 26, 32, 38, 44, 50, 58]], [10.4, [22, 27, 33, 39, 45, 52]], [10.8, [21, 27, 33, 38, 44, 51, 57]], [11.2, [23, 28, 34, 40, 46, 52]], [11.6, [22, 28, 34, 39, 46, 53, 60]], [12, [23, 29, 35, 41, 47, 53]], [12.4, [23, 28, 34, 40, 46, 52, 60]], [12.8, [22, 28, 35, 42, 48, 55]], [13.2, [21, 27, 33, 40, 47, 53, 60]], [13.6, [20, 26, 33, 39, 45, 52, 58]], [14, [18, 25, 31, 38, 45, 51, 60]], [14.4, [16, 23, 30, 36, 43, 50, 58]], [14.8, [14, 21, 28, 35, 41, 48, 55, 62]], [15.2, [12, 19, 26, 33, 40, 46, 53, 60]], [15.6, [10, 17, 24, 31, 38, 45, 51, 58, 64]], [16, [8, 14, 21, 28, 35, 43, 49, 56, 62]], [16.4, [6, 13, 20, 27, 34, 41, 48, 55, 62]], [16.8, [5, 11, 18, 25, 32, 40, 46, 53, 60, 67]], [17.2, [3, 9, 15, 23, 31, 38, 45, 52, 58, 65]], [17.6, [3, 8, 14, 21, 28, 36, 42, 50, 57, 64]], [18, [2, 6, 12, 19, 26, 33, 40, 47, 55, 62, 68]],
];

const pointsD: Pt[] = [
  [5.7, 133], [7.6, 132], [14.2, 132], [20.9, 132], [6.3, 124], [7.6, 116], [8.1, 121], [5.7, 113], [2.8, 115], [2.3, 105], [4.5, 105], [5.1, 102], [6.5, 100], [7.3, 97], [7.3, 106], [8.2, 98], [9.8, 98], [9.8, 106], [9.9, 111], [11.6, 102], [11.4, 117], [12, 116], [12.3, 118], [12.8, 120], [13.2, 121], [13, 105], [12.4, 105], [13.7, 102], [14.2, 102], [15.3, 121], [15, 116], [16, 120], [16.9, 128], [17.3, 129], [17.7, 125], [18.2, 127], [19.2, 126], [19.6, 127], [16.3, 122], [17, 118], [17.8, 116], [18.5, 122], [19.5, 120], [20.1, 118], [20.5, 120], [21.1, 116], [21.6, 120], [18.7, 112], [19.4, 110], [20, 114], [22.4, 104], [22.8, 112], [23.3, 113], [24, 114], [24.5, 119], [24.6, 116], [25.7, 120], [24.7, 112], [25.3, 107], [25.9, 102], [25.4, 100], [26.6, 105], [27.2, 108], [28, 103], [28.5, 103], [29, 105], [29.5, 105], [29.9, 103], [30.4, 108], [30.9, 104], [31.4, 103], [32, 101],
  [23.5, 88], [24.2, 88], [24.9, 86], [25.6, 88], [26.4, 85], [27.5, 88], [28.4, 88], [29.6, 80], [30.2, 88], [30.7, 90], [32, 89], [32, 91],
  [22.5, 64], [23, 72], [23.6, 62], [24.1, 66], [24.7, 60], [25.4, 68], [26, 72], [26.6, 70], [27.2, 72], [27.9, 64], [28.4, 72], [29.9, 75], [31.4, 74], [31.9, 75], [28.5, 65], [29.2, 58], [30.5, 55], [31.2, 56],
  [23.4, 58], [24.6, 48], [25.7, 52], [26.5, 44], [27.1, 38], [27, 30], [28.2, 52], [28.1, 21], [27.9, 21], [29.9, 38], [29.7, 37], [25.8, 32], [25.2, 32], [25.6, 33], [25.7, 10], [25.3, 14], [25.4, 21], [24.8, 19], [24.6, 10], [24, 22], [23.5, 26], [23, 28], [22.5, 18], [22.9, 11], [22.2, 14],
  [-2.9, 50], [-2.2, 50], [-2.7, 47], [-1.8, 49], [-1.2, 50], [-4.1, 42], [-3.6, 42], [-2.1, 38], [-1.7, 37], [-1.2, 39], [-6.5, 27], [-4.2, 28], [-7.8, 10], [-5.9, 11], [-3.9, 11], [-3.5, 13], [-3.1, 17], [-2.7, 16], [-2.3, 15], [-1.7, 12], [-0.9, 23], [-0.5, 22], [0.1, 21],
  [-5, 4], [-5.5, 6], [-4.5, 3], [-3.5, 6], [-2.8, 8], [-2, 5], [-1, 9], [-9.5, 2], [-11, 2],
];

const panels = [
  { frame: [5, 7, 574.5, 343], plot: [59.5, 25, 553, 262], yDomain: [0, 350], yTicks: ticksA, solid: solidA, cols: colsA, points: pointsA, trend: trendA, yTitle: 'Consumption [kWh/h]', yTitleAt: [42, 145], xTitleAt: [306, 316], eq: 'y = -0,2949x + 125,78', eqAt: [369, 248], eqW: 180 },
  { frame: [602, 5, 570, 345], plot: [655, 25, 1151, 297], yDomain: [-300, 700], yTicks: ticksB, solid: solidB, cols: colsB, points: pointsB, trend: trendB, yTitle: 'Consumption [kWh/h]', yTitleAt: [639, 161], xTitleAt: [904, 316], eq: 'y = -10,113x + 155,26', eqAt: [918, 284], eqW: 180 },
  { frame: [5, 395, 574.5, 349], plot: [58, 414, 553, 656], yDomain: [0, 250], yTicks: ticksC, solid: solidC, cols: colsC, points: pointsC, trend: trendC, yTitle: 'Consumption [kWh/h]', yTitleAt: [42, 535], xTitleAt: [306, 710], eq: 'y = -0,1012x + 47,474', eqAt: [393, 645], eqW: 180 },
  { frame: [602, 399, 570, 345], plot: [655, 418, 1151, 692], yDomain: [-40, 160], yTicks: ticksD, solid: solidD, cols: colsD, points: pointsD, trend: trendD, yTitle: 'Production [kWh/h]', yTitleAt: [639, 554], xTitleAt: [904, 710], eq: 'y = 1,8542x + 2,3021', eqAt: [606, 687], eqW: 173 },
];

const captions = [
  { tag: '(a)', name: 'BK15AB consumption', sub: '1,t', x: 132, y: 384, w: 321 },
  { tag: '(b)', name: 'Sjøgangen consumption', sub: '4,t', x: 723, y: 384, w: 334 },
  { tag: '(c)', name: 'BK16 consumption', sub: '2,t', x: 148, y: 777, w: 288 },
  { tag: '(d)', name: 'BK16 production', sub: '3,t', x: 754, y: 777, w: 271 },
];

const BLUE = '#4472c4';
const GRID = '#dcdcdc';
const TEXT = '#6a6a6a';
const SANS = 'Lato, "Open Sans", sans-serif';

const App = () => {
  const ref = useRef<SVGSVGElement>(null);

  useEffect(() => {
    const svg = d3.select(ref.current);
    svg.selectAll('*').remove();

    panels.forEach(p => {
      const [fx, fy, fw, fh] = p.frame;
      const [left, top, right, bottom] = p.plot;
      const x = d3.scaleLinear().domain([-20, 40]).range([left, right]);
      const y = d3.scaleLinear().domain(p.yDomain).range([bottom, top]);
      const g = svg.append('g');

      g.append('rect').attr('x', fx).attr('y', fy).attr('width', fw).attr('height', fh)
        .attr('fill', '#fff').attr('stroke', GRID).attr('stroke-width', 1.2);

      g.selectAll('.gx').data(xTicks).enter().append('line')
        .attr('x1', d => x(d)).attr('x2', d => x(d)).attr('y1', top).attr('y2', bottom)
        .attr('stroke', d => d === 0 ? '#b5b5b5' : GRID).attr('stroke-width', 1.2);
      g.selectAll('.gy').data(p.yTicks).enter().append('line')
        .attr('x1', left).attr('x2', right).attr('y1', d => y(d)).attr('y2', d => y(d))
        .attr('stroke', d => d === 0 ? '#b5b5b5' : GRID).attr('stroke-width', 1.2);

      const area = d3.area<Band>()
        .x(d => x(d[0])).y0(d => y(d[1])).y1(d => y(d[2]));
      g.selectAll(null).data(p.solid).enter().append('path')
        .attr('d', d => area(d)).attr('fill', BLUE);

      const dots: Pt[] = [...p.points];
      p.cols.forEach(([t, values]) => values.forEach(v => dots.push([t, v])));
      g.selectAll('circle').data(dots).enter().append('circle')
        .attr('cx', d => x(d[0])).attr('cy', d => y(d[1])).attr('r', 1.8)
        .attr('fill', BLUE);

      const xAxis = d3.axisBottom(x).tickValues(xTicks).tickSize(0).tickPadding(0).tickFormat(d => String(d));
      const yAxis = d3.axisLeft(y).tickValues(p.yTicks).tickSize(0).tickPadding(0).tickFormat(d => String(d));
      const ax = g.append('g').attr('transform', `translate(0,${y(0) + 16})`).call(xAxis);
      const ay = g.append('g').attr('transform', `translate(${x(0) - 17},0)`).call(yAxis);
      [ax, ay].forEach(a => {
        a.select('.domain').remove();
        a.selectAll('text')
          .attr('fill', TEXT).style('font-family', SANS).style('font-size', '15px');
      });

      g.append('path')
        .attr('d', d3.line<Pt>().x(d => x(d[0])).y(d => y(d[1]))(p.trend))
        .attr('fill', 'none').attr('stroke', '#f00000').attr('stroke-width', 2.7);

      g.append('text').attr('x', p.xTitleAt[0]).attr('y', p.xTitleAt[1])
        .attr('text-anchor', 'middle').attr('dominant-baseline', 'central')
        .attr('fill', TEXT).style('font-family', SANS).style('font-size', '22.5px')
        .style('white-space', 'pre').text('Temperature  [°C]');
      g.append('text')
        .attr('transform', `translate(${p.yTitleAt[0]},${p.yTitleAt[1]}) rotate(-90)`)
        .attr('text-anchor', 'middle').attr('dominant-baseline', 'central')
        .attr('fill', TEXT).style('font-family', SANS).style('font-size', '23px')
        .text(p.yTitle);
      g.append('text').attr('x', p.eqAt[0]).attr('y', p.eqAt[1])
        .attr('dominant-baseline', 'central')
        .attr('fill', '#ff1010').style('font-family', SANS).style('font-size', '18px')
        .attr('textLength', p.eqW).text(p.eq);
    });

    const cap = svg.append('g');
    captions.forEach(c => {
      const t = cap.append('text').attr('x', c.x).attr('y', c.y)
        .attr('textLength', c.w)
        .attr('fill', '#222').style('font-family', '"Liberation Serif", serif').style('font-size', '21px');
      t.append('tspan').attr('font-weight', 'bold').text(c.tag);
      t.append('tspan').attr('dx', 6).text(c.name);
      t.append('tspan').attr('dx', 7).text('(');
      t.append('tspan').attr('font-style', 'italic').text('y');
      t.append('tspan').attr('dy', 4).style('font-size', '14px').text(c.sub);
      t.append('tspan').attr('dy', -4).text(')');
    });
  }, []);

  return (
    <svg ref={ref} width={1171} height={787}
      style={{ position: 'absolute', left: 0, top: 0, background: '#fff' }} />
  );
};

export default App;
